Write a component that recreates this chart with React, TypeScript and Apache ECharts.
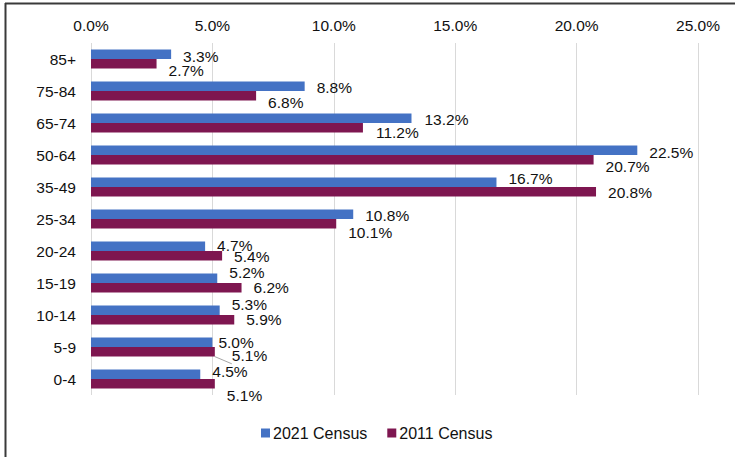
import React, { useEffect, useRef } from "react";
import * as echarts from "echarts";

const categories = ["85+", "75-84", "65-74", "50-64", "35-49", "25-34", "20-24", "15-19", "10-14", "5-9", "0-4"];
const census2021 = [3.3, 8.8, 13.2, 22.5, 16.7, 10.8, 4.7, 5.2, 5.3, 5.0, 4.5];
const census2011 = [2.7, 6.8, 11.2, 20.7, 20.8, 10.1, 5.4, 6.2, 5.9, 5.1, 5.1];
const xTicks = { min: 0, max: 25, interval: 5 };

// label nudges [dx, dy] (layout only)
const offsets2021 = [[0, 2], [0, 1.5], [1, 1], [0, 2], [0, -4], [0, 1.5], [0, -1], [0, -5.5], [0, -6], [-6, 0], [0, -2.5]];
const offsets2011 = [[0, 7], [0, 6.5], [1, 4.5], [0, 7], [0, 1], [0, 8.5], [0, 1], [0, 0], [0, 0], [5, 4], [0, 12]];

const FONT = "'Liberation Sans', Arial, sans-serif";

export default function App() {
  const ref = useRef<HTMLDivElement>(null);
  useEffect(() => {
    document.body.style.margin = "0";
    const chart = echarts.init(ref.current!, undefined, { renderer: "svg" });
    const mk = (vals: number[], offs: number[][], withLine?: number) =>
      vals.map((v, i) => {
        const item: any = {
          value: v,
          label: { offset: offs[i] },
        };
        if (withLine === i) {
          item.labelLine = { show: true, lineStyle: { color: "#a6a6a6", width: 1 } };
        }
        return item;
      });
    chart.setOption({
      animation: false,
      textStyle: { fontFamily: FONT },
      graphic: [
        { type: "line", shape: { x1: 5.5, y1: 3, x2: 5.5, y2: 457 }, style: { stroke: "#3a3a3a", lineWidth: 2 } },
        { type: "line", shape: { x1: 5, y1: 3.5, x2: 735, y2: 3.5 }, style: { stroke: "#3a3a3a", lineWidth: 2 } },
      ],
      grid: { left: 91, right: 37, top: 43, bottom: 62 },
      legend: {
        left: 256,
        top: 420,
        itemWidth: 9,
        itemHeight: 9,
        itemGap: 20,
        icon: "rect",
        textStyle: { fontSize: 16, color: "#111", fontFamily: FONT, padding: [0, 0, 0, -2] },
        data: ["2021 Census", "2011 Census"],
      },
      xAxis: {
        type: "value",
        position: "top",
        min: xTicks.min,
        max: xTicks.max,
        interval: xTicks.interval,
        axisLine: { show: false },
        axisTick: { show: false },
        splitLine: { lineStyle: { color: "#d9d9d9", width: 1 } },
        axisLabel: {
          margin: 10,
          fontSize: 15.5,
          color: "#111",
          fontFamily: FONT,
          formatter: (v: number) => v.toFixed(1) + "%",
        },
      },
      yAxis: {
        type: "category",
        data: categories,
        inverse: true,
        axisLine: { show: false },
        axisTick: { show: false },
        axisLabel: { margin: 15, fontSize: 15.5, color: "#111", fontFamily: FONT },
      },
      series: [
        {
          name: "2021 Census",
          type: "bar",
          barGap: "0%",
          barCategoryGap: "40%",
          itemStyle: { color: "#4472C4" },
          label: {
            show: true,
            position: "right",
            distance: 12,
            fontSize: 15.5,
            color: "#111",
            fontFamily: FONT,
            formatter: (p: any) => p.value.toFixed(1) + "%",
          },
          data: mk(census2021, offsets2021),
        },
        {
          name: "2011 Census",
          type: "bar",
          barGap: "0%",
          barCategoryGap: "40%",
          itemStyle: { color: "#7E1650" },
          label: {
            show: true,
            position: "right",
            distance: 12,
            fontSize: 15.5,
            color: "#111",
            fontFamily: FONT,
            formatter: (p: any) => p.value.toFixed(1) + "%",
          },
          data: mk(census2011, offsets2011, 9),
        },
      ],
    });
    return () => chart.dispose();
  }, []);
  return <div ref={ref} style={{ width: 735, height: 457 }} />;
}
